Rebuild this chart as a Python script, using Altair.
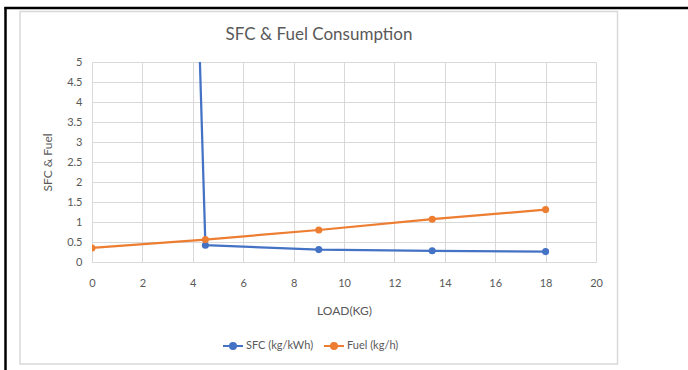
import altair as alt
import pandas as pd

load_kg = [0, 4.5, 9, 13.5, 18]
sfc = [95.0, 0.42, 0.31, 0.28, 0.26]
fuel = [0.35, 0.56, 0.80, 1.07, 1.31]
series_names = ["SFC (kg/kWh)", "Fuel (kg/h)"]
x_ticks = list(range(0, 21, 2))
y_ticks = [0, 0.5, 1, 1.5, 2, 2.5, 3, 3.5, 4, 4.5, 5]

rows = []
for xv, s, f in zip(load_kg, sfc, fuel):
    rows.append({"load": xv, "value": s, "series": series_names[0]})
    rows.append({"load": xv, "value": f, "series": series_names[1]})
df = pd.DataFrame(rows)

FONT = "Lato"
GRAY = "#595959"
W, H = 504, 200

color = alt.Color(
    "series:N",
    scale=alt.Scale(domain=series_names, range=["#4472C4", "#ED7D31"]),
    legend=alt.Legend(
        title=None,
        orient="none",
        legendX=130,
        legendY=273,
        direction="horizontal",
        symbolType="M-1,0H1M0.3,0A0.3,0.3,0,1,1,-0.3,0A0.3,0.3,0,1,1,0.3,0Z",
        symbolSize=400,
        symbolStrokeWidth=2,
        labelFont=FONT,
        labelFontSize=11,
        labelColor=GRAY,
        columnPadding=6,
        labelOffset=2,
    ),
)

x = alt.X(
    "load:Q",
    scale=alt.Scale(domain=[0, 20], nice=False),
    axis=alt.Axis(
        values=x_ticks,
        title="LOAD(KG)",
        titleFont=FONT,
        titleFontSize=12,
        titleFontWeight="normal",
        titleColor=GRAY,
        titlePadding=17,
        labelFont=FONT,
        labelFontSize=11,
        labelColor=GRAY,
        labelPadding=15,
        labelFlush=False,
        ticks=False,
        domainColor="#d9d9d9",
        gridColor="#d9d9d9",
        grid=True,
    ),
)
y = alt.Y(
    "value:Q",
    scale=alt.Scale(domain=[0, 5], nice=False),
    axis=alt.Axis(
        values=y_ticks,
        labelExpr="datum.value",
        title="SFC & Fuel",
        titleFont=FONT,
        titleFontSize=12,
        titleFontWeight="normal",
        titleColor=GRAY,
        titlePadding=12,
        labelFont=FONT,
        labelFontSize=11,
        labelColor=GRAY,
        labelPadding=10,
        labelFlush=False,
        ticks=False,
        domain=False,
        gridColor="#d9d9d9",
        grid=True,
    ),
)

base = alt.Chart(df)
lines = base.mark_line(strokeWidth=2.25, clip=True).encode(x=x, y=y, color=color)
points = base.mark_point(filled=True, size=50, opacity=1, clip=True).encode(
    x=x, y=y, color=color
)

one = alt.Chart(pd.DataFrame({"t": ["SFC & Fuel Consumption"]}))
title = one.mark_text(
    font=FONT, fontSize=17, color=GRAY, align="center", baseline="middle"
).encode(text="t:N", x=alt.value(227), y=alt.value(-27))

frame = one.mark_rect(fill=None, stroke="#d9d9d9", strokeWidth=1.5, clip=False).encode(
    x=alt.value(-72), x2=alt.value(525.5), y=alt.value(-50.5), y2=alt.value(302)
)
top_line = one.mark_rule(color="black", strokeWidth=2.5, clip=False).encode(
    x=alt.value(-87.5), x2=alt.value(600), y=alt.value(-54), y2=alt.value(-54)
)
left_line = one.mark_rule(color="black", strokeWidth=2.5, clip=False).encode(
    x=alt.value(-86.5), x2=alt.value(-86.5), y=alt.value(-55), y2=alt.value(310)
)

chart = (
    alt.layer(frame, top_line, left_line, title, lines, points)
    .properties(
        width=W,
        height=H,
        autosize=alt.AutoSizeParams(type="none"),
        padding={"left": 92, "top": 62, "right": 92, "bottom": 108},
        background="white",
    )
    .configure_view(stroke=None)
)

chart.save("out.html", embed_options={"renderer": "svg", "actions": False})
